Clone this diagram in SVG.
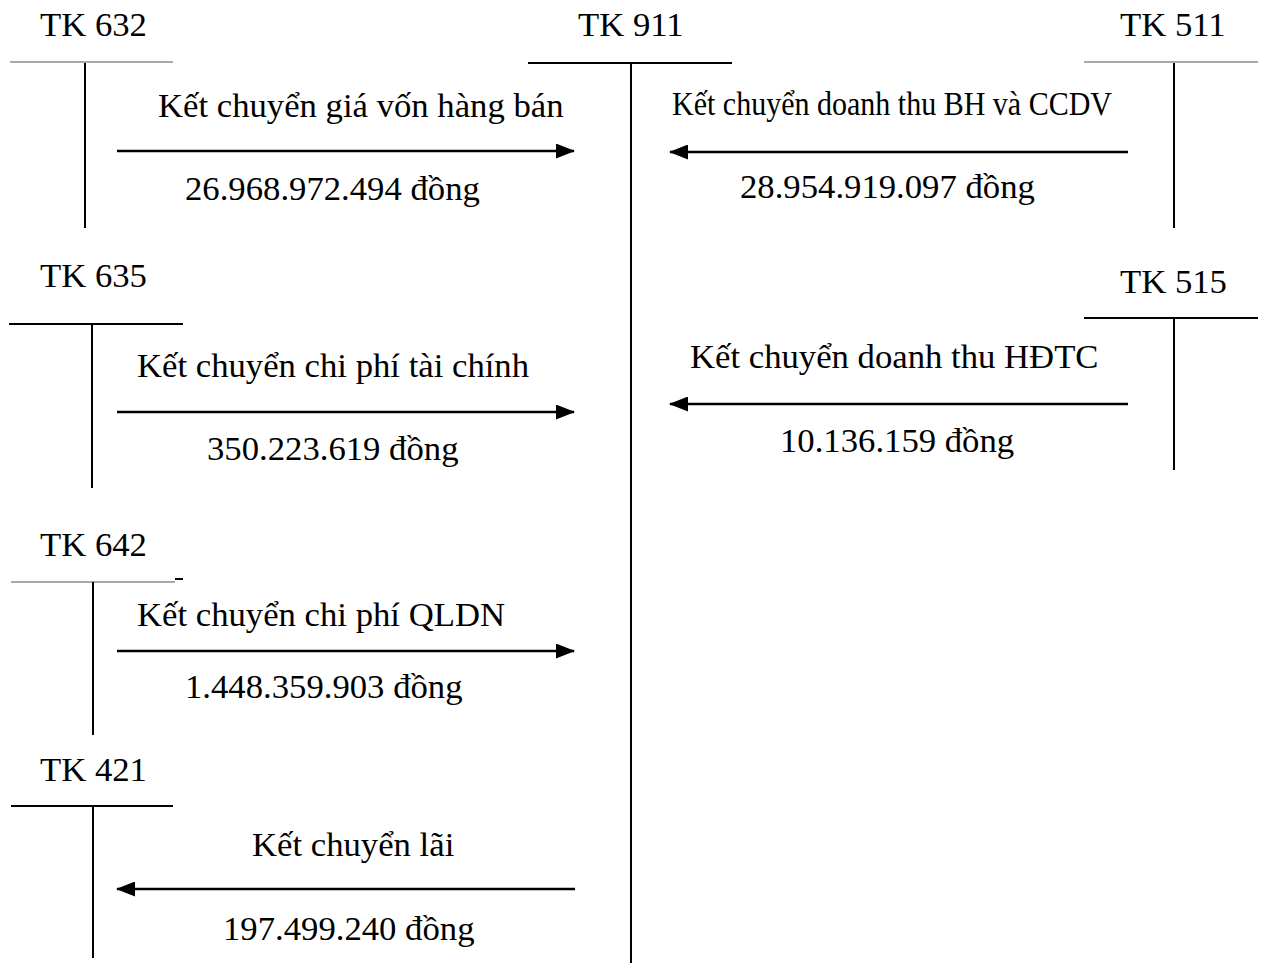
<svg xmlns="http://www.w3.org/2000/svg" width="1264" height="963" viewBox="0 0 1264 963">
<style>
text{font-family:"Liberation Serif","Times New Roman",serif;font-size:34.7px;fill:#000}
.ln{stroke:#000;stroke-width:2;fill:none}
.thin{stroke:#555;stroke-width:1.2;fill:none}
.arr{stroke:#000;stroke-width:2.5;fill:none;marker-end:url(#ah)}
</style>
<defs>
<marker id="ah" markerWidth="19" markerHeight="15" refX="18" refY="7.5" orient="auto" markerUnits="userSpaceOnUse">
<path d="M0,0 L19,7.5 L0,15 z" fill="#000"/>
</marker>
</defs>
<rect width="1264" height="963" fill="#fff"/>
<g id="tk632">
<text x="40" y="36">TK 632</text>
<line class="thin" x1="10" y1="62" x2="173" y2="62"/>
<line class="ln" x1="85" y1="63" x2="85" y2="228"/>
</g>
<g id="tk911">
<text x="578" y="36">TK 911</text>
<line class="ln" x1="528" y1="63" x2="732" y2="63"/>
<line class="ln" x1="631" y1="63" x2="631" y2="963"/>
</g>
<g id="tk511">
<text x="1120" y="36">TK 511</text>
<line class="thin" x1="1084" y1="62" x2="1258" y2="62"/>
<line class="ln" x1="1174" y1="63" x2="1174" y2="228"/>
</g>
<g id="tk635">
<text x="40" y="287">TK 635</text>
<line class="ln" x1="9" y1="324" x2="183" y2="324"/>
<line class="ln" x1="92" y1="324" x2="92" y2="488"/>
</g>
<g id="tk515">
<text x="1120" y="293">TK 515</text>
<line class="ln" x1="1084" y1="318" x2="1258" y2="318"/>
<line class="ln" x1="1174" y1="318" x2="1174" y2="470"/>
</g>
<g id="tk642">
<text x="40" y="556">TK 642</text>
<line class="thin" x1="11" y1="582" x2="175" y2="582"/>
<line class="ln" x1="175" y1="579" x2="183" y2="579"/>
<line class="ln" x1="93" y1="582" x2="93" y2="735"/>
</g>
<g id="tk421">
<text x="40" y="781">TK 421</text>
<line class="ln" x1="11" y1="806" x2="173" y2="806"/>
<line class="ln" x1="93" y1="806" x2="93" y2="958"/>
</g>
<g id="connectors">
<line class="arr" x1="117" y1="151" x2="574" y2="151"/>
<line class="arr" x1="1128" y1="152" x2="670" y2="152"/>
<line class="arr" x1="117" y1="412" x2="574" y2="412"/>
<line class="arr" x1="1128" y1="404" x2="670" y2="404"/>
<line class="arr" x1="117" y1="651" x2="574" y2="651"/>
<line class="arr" x1="575" y1="889" x2="117" y2="889"/>
</g>
<g id="labels">
<text x="158" y="117">Kết chuyển giá vốn hàng bán</text>
<text x="185" y="200">26.968.972.494 đồng</text>
<text x="672" y="115" textLength="440" lengthAdjust="spacingAndGlyphs">Kết chuyển doanh thu BH và CCDV</text>
<text x="740" y="198">28.954.919.097 đồng</text>
<text x="137" y="377">Kết chuyển chi phí tài chính</text>
<text x="207" y="460">350.223.619 đồng</text>
<text x="690" y="368">Kết chuyển doanh thu HĐTC</text>
<text x="780" y="452">10.136.159 đồng</text>
<text x="137" y="626">Kết chuyển chi phí QLDN</text>
<text x="185" y="698">1.448.359.903 đồng</text>
<text x="252" y="856">Kết chuyển lãi</text>
<text x="223" y="940">197.499.240 đồng</text>
</g>
</svg>
